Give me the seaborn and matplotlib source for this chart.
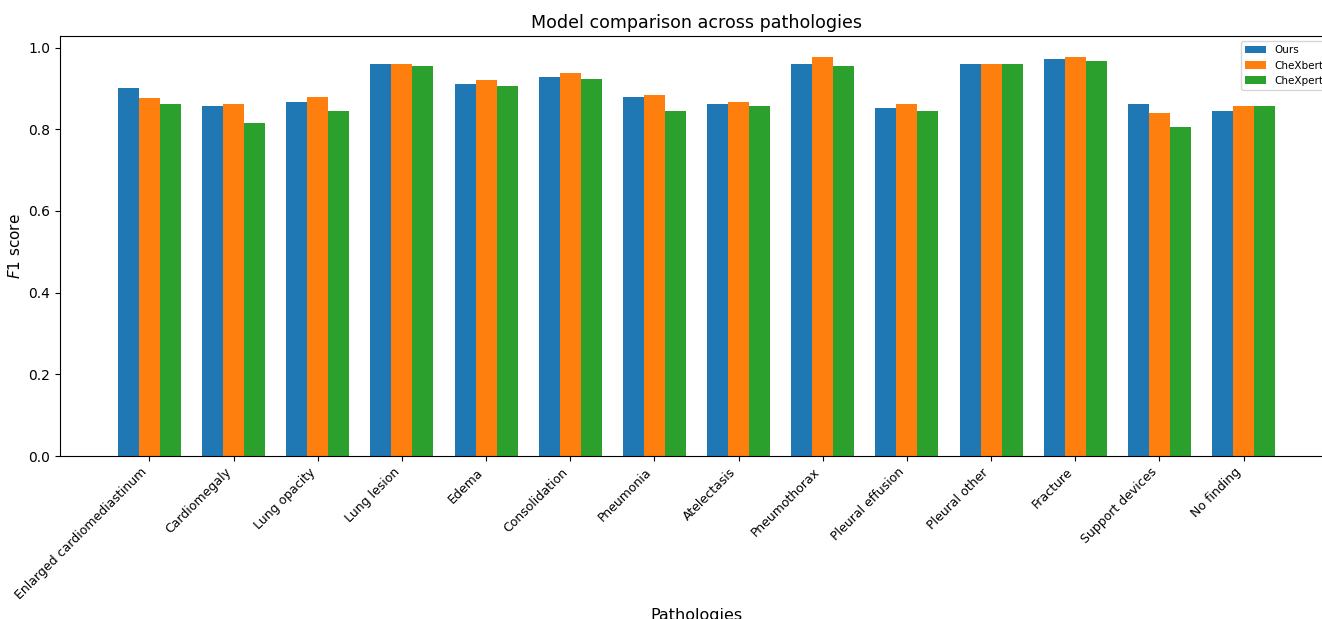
import pandas as pd
import matplotlib
matplotlib.use("Agg")
import matplotlib.pyplot as plt
import seaborn as sns

# %% Datos
patologias = ["Enlarged cardiomediastinum", "Cardiomegaly", "Lung opacity", "Lung lesion",
              "Edema", "Consolidation", "Pneumonia", "Atelectasis", "Pneumothorax",
              "Pleural effusion", "Pleural other", "Fracture", "Support devices", "No finding"]
modelos = ["Ours", "CheXbert", "CheXpert"]
f1_ours = [0.902, 0.856, 0.866, 0.961, 0.910, 0.929, 0.878, 0.861, 0.961, 0.851, 0.961, 0.973, 0.861, 0.846]
f1_chexbert = [0.876, 0.861, 0.880, 0.961, 0.920, 0.937, 0.885, 0.866, 0.978, 0.863, 0.961, 0.976, 0.839, 0.856]
f1_chexpert = [0.863, 0.815, 0.846, 0.954, 0.905, 0.922, 0.846, 0.856, 0.956, 0.846, 0.961, 0.968, 0.805, 0.856]

# %% Armado del dataframe en formato largo
df = pd.DataFrame({
    "Pathology": patologias * 3,
    "Model": [m for m in modelos for _ in patologias],
    "F1": f1_ours + f1_chexbert + f1_chexpert,
})

# %% Grafico
fig = plt.figure(figsize=(13.22, 6.19), dpi=100)
ax = fig.add_axes([60 / 1322, 1 - 456 / 619, 1273 / 1322, 420 / 619])

sns.barplot(data=df, x="Pathology", y="F1", hue="Model", hue_order=modelos,
            palette=["#1f77b4", "#ff7f0e", "#2ca02c"], width=0.75, gap=0,
            saturation=1, errorbar=None, ax=ax)

ax.set_xlim(-1.0625, 14.0625)
ax.set_ylim(0, 1.0285)
ax.set_title("Model comparison across pathologies", fontsize=12.6)
ax.set_ylabel("$F1$ score", fontsize=11)
ax.set_xlabel("Pathologies", fontsize=11.5)
plt.setp(ax.get_xticklabels(), rotation=45, ha="right", fontsize=9)
ax.legend(loc="upper right", fontsize=7.5)

fig.savefig("out.png", dpi=100)
